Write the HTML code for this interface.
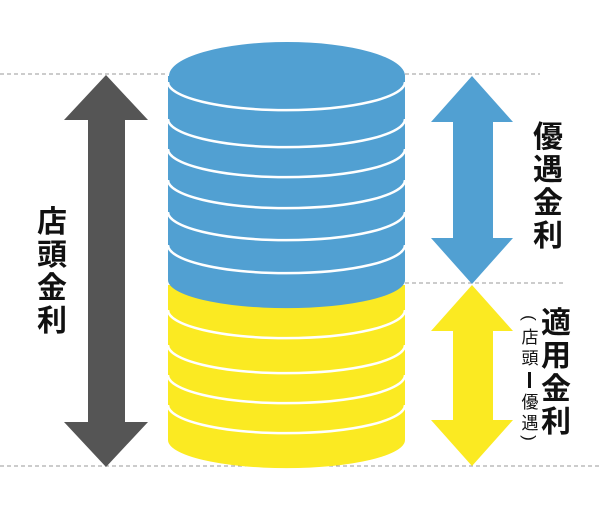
<!DOCTYPE html>
<html><head><meta charset="utf-8"><style>
body{margin:0;background:#fff;width:600px;height:509px;overflow:hidden}
</style></head><body>
<svg width="600" height="509" viewBox="0 0 600 509" xmlns="http://www.w3.org/2000/svg" font-family="'Liberation Sans','Noto Sans CJK JP',sans-serif">
<g stroke="#999" stroke-width="1" stroke-dasharray="4,3">
<line x1="0" y1="74" x2="168" y2="74"/><line x1="405" y1="74" x2="540" y2="74"/>
<line x1="405" y1="283" x2="565" y2="283"/>
<line x1="0" y1="466" x2="600" y2="466"/>
</g>
<!-- cylinder -->
<path d="M168 285 L168 440 A118 28 0 0 0 405 440 L405 285 Z" fill="#fbea22"/>
<path d="M168 76 L168 280 A118 28 0 0 0 405 280 L405 76 Z" fill="#51a0d2"/>
<ellipse cx="287" cy="76" rx="118" ry="34" fill="#51a0d2"/>
<g fill="none" stroke="#fff" stroke-width="2.5">
<path d="M168 82 A118 28 0 0 0 405 82"/>
<path d="M168 119 A118 28 0 0 0 405 119"/>
<path d="M168 149 A118 28 0 0 0 405 149"/>
<path d="M168 180 A118 28 0 0 0 405 180"/>
<path d="M168 212 A118 28 0 0 0 405 212"/>
<path d="M168 245 A118 28 0 0 0 405 245"/>
<path d="M168 310 A118 28 0 0 0 405 310"/>
<path d="M168 345 A118 28 0 0 0 405 345"/>
<path d="M168 375 A118 28 0 0 0 405 375"/>
<path d="M168 405 A118 28 0 0 0 405 405"/>
</g>
<!-- arrows -->
<polygon points="106,75 148,120 125,120 125,422 148,422 106,467 64,422 88,422 88,120 64,120" fill="#555"/>
<polygon points="472,76 513,122 493,122 493,238 513,238 472,284 431,238 453,238 453,122 431,122" fill="#51a0d2"/>
<polygon points="472,285 513,331 493,331 493,420 513,420 472,466 431,420 453,420 453,331 431,331" fill="#fbea22"/>
<g font-weight="bold" font-size="30" fill="#111" text-anchor="middle">
<text x="52" y="232">店</text><text x="52" y="265">頭</text><text x="52" y="298">金</text><text x="52" y="331">利</text>
<text x="548" y="147">優</text><text x="548" y="180">遇</text><text x="548" y="213">金</text><text x="548" y="246">利</text>
<text x="556" y="333">適</text><text x="556" y="366">用</text><text x="556" y="399">金</text><text x="556" y="432">利</text>
</g>
<g font-size="17" fill="#111" text-anchor="middle">
<text x="530" y="324" transform="rotate(90 530 318)">(</text>
<text x="530" y="343">店</text><text x="530" y="364">頭</text>
<rect x="528" y="372" width="3" height="16" fill="#111"/>
<text x="530" y="408">優</text><text x="530" y="429">遇</text>
<text x="530" y="444" transform="rotate(90 530 438)">)</text>
</g>
</svg>
</body></html>
